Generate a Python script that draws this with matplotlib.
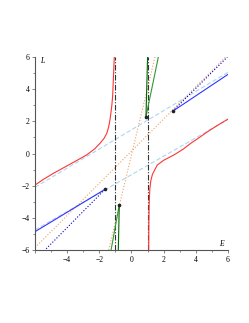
import numpy as np
import matplotlib
matplotlib.use('Agg')
import matplotlib.pyplot as plt

# red curve, branch left of the pole at E = -1
red_left_E = [-6.0, -5.48, -4.8, -4.03, -3.4, -2.79, -2.3, -1.96, -1.7, -1.54, -1.42, -1.34, -1.23, -1.17, -1.13, -1.07]
red_left_L = [-1.96, -1.61, -1.2, -0.78, -0.43, -0.09, 0.28, 0.63, 0.95, 1.25, 1.65, 2.08, 2.91, 3.6, 4.57, 6.0]
# red curve, branch right of the pole at E = 1
red_right_E = [1.07, 1.08, 1.1, 1.14, 1.2, 1.3, 1.6, 2.0, 2.64, 3.2, 3.68, 4.2, 4.72, 5.3, 6.0]
red_right_L = [-6.0, -4.5, -3.08, -2.2, -1.7, -1.3, -0.72, -0.42, -0.09, 0.26, 0.63, 0.98, 1.35, 1.72, 2.14]

# poles
pole_E = [-1.0, 1.0]

# light blue dashed asymptotes
sky_up_E = [-6.0, 6.0]
sky_up_L = [-2.1, 5.05]
sky_lo_E = [-6.0, 6.0]
sky_lo_L = [-4.75, 2.12]

# orange dotted reference lines
org_diag_E = [-6.0, 5.85]
org_diag_L = [-5.85, 6.0]
org_steep_E = [-1.42, 1.46]
org_steep_L = [-6.0, 6.0]

# blue points and their lines
blue_pt_E = [-1.65, 2.55]
blue_pt_L = [-2.23, 2.62]
blue_solid_end_E = [-6.0, 6.0]
blue_solid_end_L = [-4.86, 4.92]
blue_dot_end_E = [-5.38, 5.96]
blue_dot_end_L = [-6.0, 6.0]

# green points and their lines
green_pt_E = [-0.76, 0.9]
green_pt_L = [-3.2, 2.29]
green_a_end_E = [-1.27, 1.67]
green_a_end_L = [-6.0, 6.0]
green_b_end_E = [-0.82, 1.0]
green_b_end_L = [-6.0, 6.0]

plt.rcParams['font.family'] = ['Liberation Serif', 'DejaVu Serif']
plt.rcParams['font.size'] = 5.5

fig = plt.figure(figsize=(2.49, 3.23), dpi=100)
ax = fig.add_axes([0.1406, 0.226, 0.775, 0.5975])

ax.plot(sky_up_E, sky_up_L, color='#aad8f0', lw=0.8, dashes=(4, 2))
ax.plot(sky_lo_E, sky_lo_L, color='#aad8f0', lw=0.8, dashes=(4, 2))
ax.plot(org_diag_E, org_diag_L, color='#f0a060', lw=0.8, ls=':')
ax.plot(org_steep_E, org_steep_L, color='#f0a060', lw=0.8, ls=':')

for e in pole_E:
    ax.axvline(e, color='#333333', lw=0.8, dashes=(5, 1.5, 1, 1.5))

ax.plot(red_left_E, red_left_L, color='#ff3333', lw=0.8)
ax.plot(red_right_E, red_right_L, color='#ff3333', lw=0.8)

for i in range(2):
    ax.plot([blue_pt_E[i], blue_solid_end_E[i]], [blue_pt_L[i], blue_solid_end_L[i]], color='#3333ff', lw=0.8)
    ax.plot([blue_pt_E[i], blue_dot_end_E[i]], [blue_pt_L[i], blue_dot_end_L[i]], color='#0000cc', lw=0.8, ls=':')
    ax.plot([green_pt_E[i], green_a_end_E[i]], [green_pt_L[i], green_a_end_L[i]], color='#339933', lw=0.8)
    ax.plot([green_pt_E[i], green_b_end_E[i]], [green_pt_L[i], green_b_end_L[i]], color='#006600', lw=0.8)
ax.plot(blue_pt_E, blue_pt_L, 'o', color='#222222', ms=1.6)
ax.plot(green_pt_E, green_pt_L, 'o', color='#222222', ms=1.6)

ax.set_xlim(-6, 6)
ax.set_ylim(-6, 6)
ax.spines['top'].set_visible(False)
ax.spines['right'].set_visible(False)
ax.spines['left'].set_color('#555555')
ax.spines['bottom'].set_color('#555555')
ax.set_xticks([-6, -4, -2, 0, 2, 4, 6])
ax.set_xticklabels(['', '\u22124', '\u22122', '0', '2', '4', '6'])
ax.set_yticks([-6, -4, -2, 0, 2, 4, 6])
ax.set_yticklabels(['\u22126', '\u22124', '\u22122', '0', '2', '4', '6'])
ax.set_xticks([-5, -3, -1, 1, 3, 5], minor=True)
ax.set_yticks([-5, -3, -1, 1, 3, 5], minor=True)
ax.tick_params(which='both', direction='out', length=2, width=0.5, color='#555555', pad=2)
ax.tick_params(which='minor', length=1.2)
ax.text(-5.7, 5.75, 'L', fontstyle='italic', ha='left', va='center')
ax.text(5.75, -5.6, 'E', fontstyle='italic', ha='right', va='center')

fig.savefig('out.png', dpi=100)
